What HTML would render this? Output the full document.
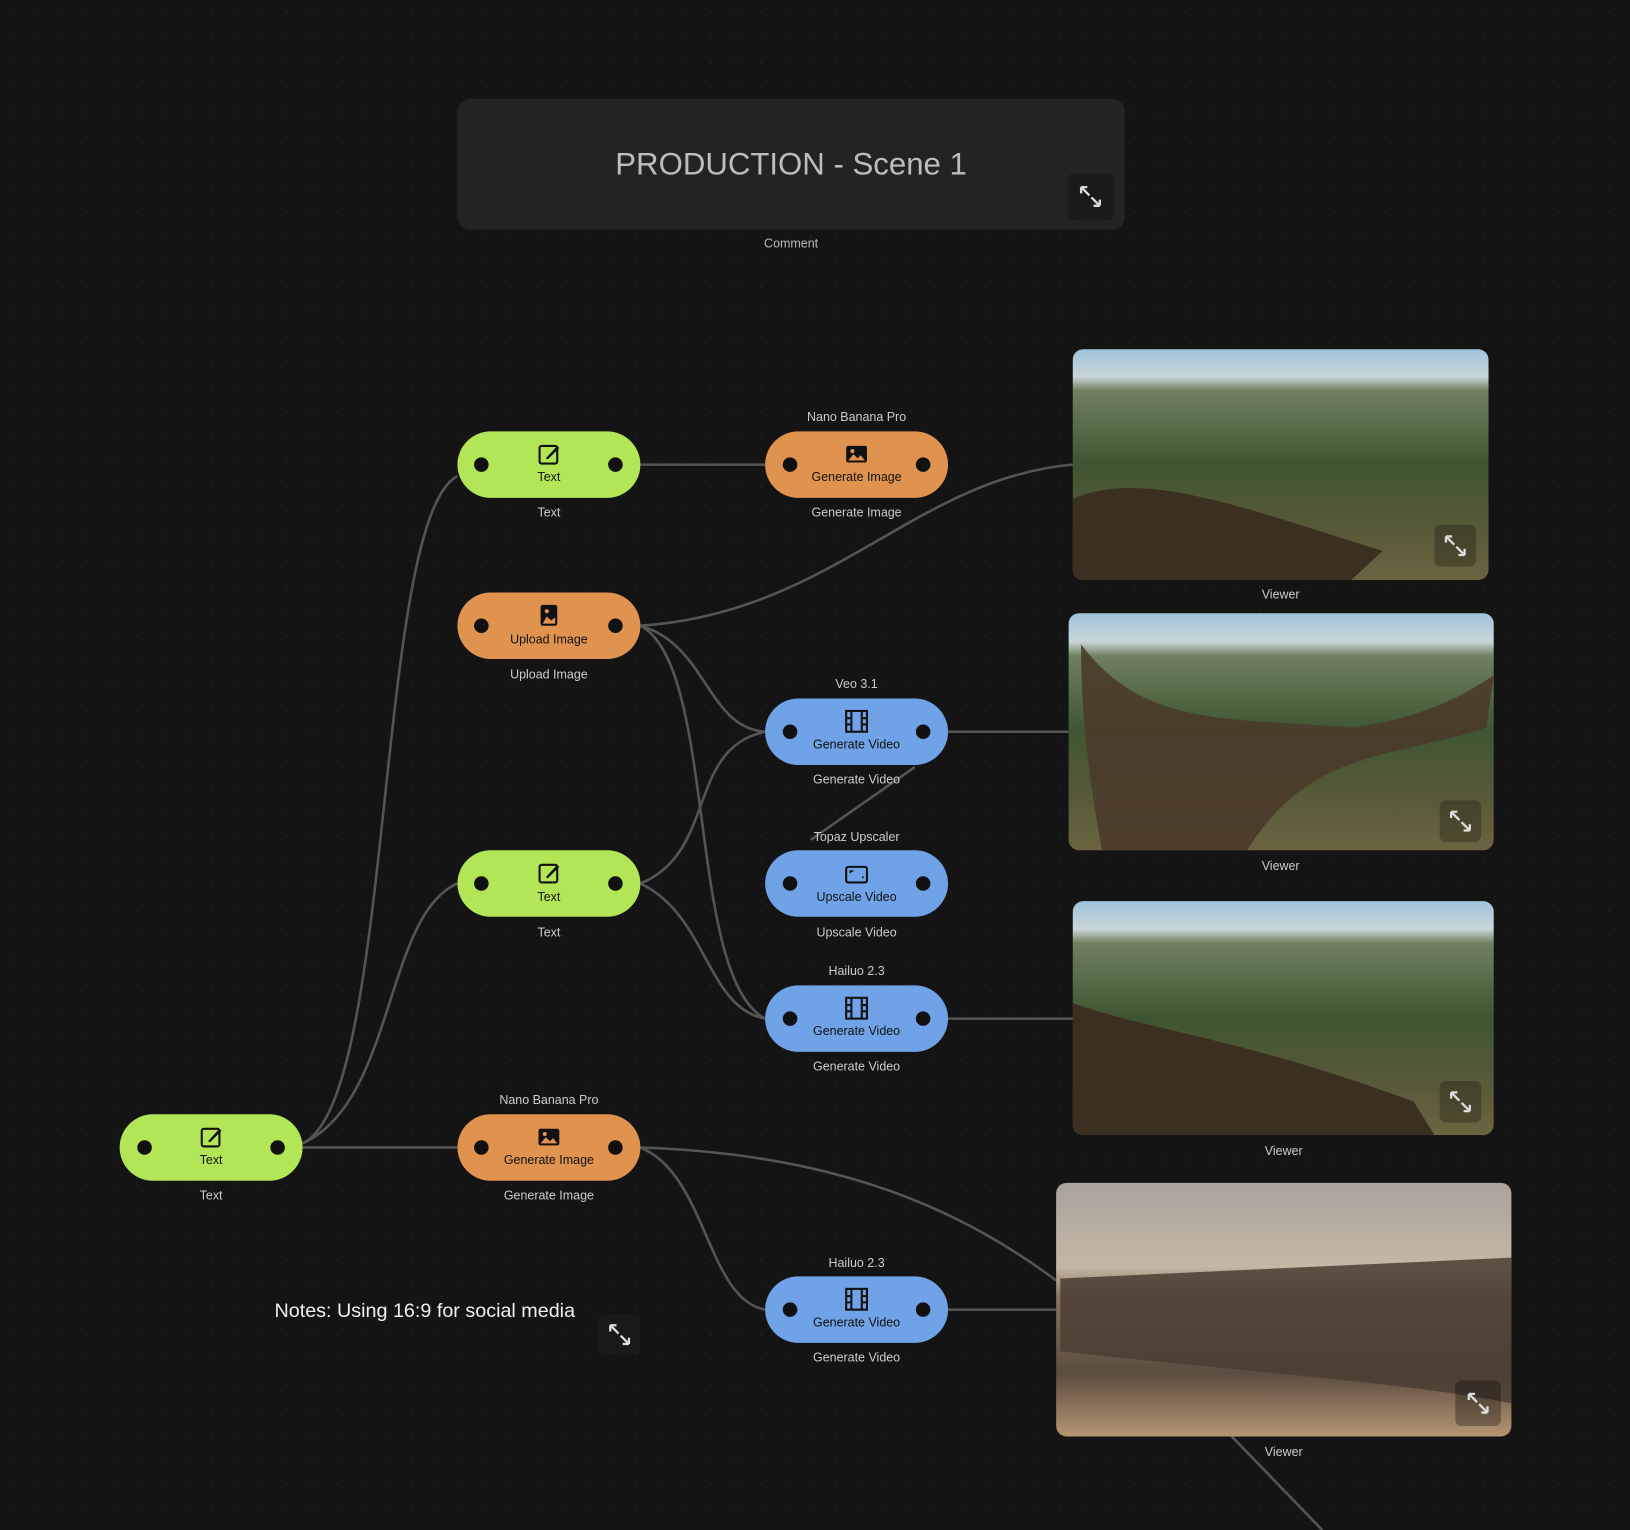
<!DOCTYPE html>
<html><head><meta charset="utf-8"><style>
html,body{margin:0;padding:0;background:#141414;width:1630px;height:1530px;overflow:hidden}
svg{display:block}
text{font-family:"Liberation Sans",sans-serif}
</style></head><body>
<svg width="1630" height="1530" viewBox="0 0 1568 1472" xmlns="http://www.w3.org/2000/svg">
<defs>
<pattern id="dots" width="24" height="24" patternUnits="userSpaceOnUse"><circle cx="12" cy="12" r="0.8" fill="#262626"/></pattern>
<linearGradient id="land" x1="0" y1="0" x2="0" y2="1">
<stop offset="0" stop-color="#9fc3dc"/><stop offset="0.12" stop-color="#c9d6d8"/><stop offset="0.18" stop-color="#6f8060"/><stop offset="0.5" stop-color="#3f5531"/><stop offset="0.8" stop-color="#5a5a3a"/><stop offset="1" stop-color="#6b6440"/></linearGradient>
<linearGradient id="sav" x1="0" y1="0" x2="0" y2="1">
<stop offset="0" stop-color="#a9a39c"/><stop offset="0.33" stop-color="#c4b7a5"/><stop offset="0.45" stop-color="#8a7560"/><stop offset="0.75" stop-color="#5a4c40"/><stop offset="1" stop-color="#b59672"/></linearGradient>
<g id="exp"><path d="M-9 -9 L-3 -9 M-9 -9 L-9 -3 M-9 -9 L-1 -1 M9 9 L3 9 M9 9 L9 3 M9 9 L1 1" stroke="#ddd" stroke-width="2.2" fill="none"/></g>
</defs>
<rect width="1568" height="1472" fill="#141414"/>
<rect width="1568" height="1472" fill="url(#dots)"/>

<!-- comment -->
<rect x="440" y="95" width="642" height="126" rx="12" fill="#232323"/>
<text x="761" y="168" font-size="30" fill="#bdbdbd" text-anchor="middle">PRODUCTION - Scene 1</text>
<rect x="1027" y="167" width="45" height="45" rx="6" fill="#1a1a1a"/>
<use href="#exp" x="1049" y="189"/>
<text x="761" y="238" font-size="12" fill="#bbb" text-anchor="middle">Comment</text>

<!-- connectors -->
<g stroke="#555" stroke-width="2.5" fill="none">
<path d="M616 447 L736 447"/>
<path d="M291 1100 C380 1060 360 500 440 458"/>
<path d="M291 1100 C380 1060 370 880 440 850"/>
<path d="M291 1104 L440 1104"/>
<path d="M616 602 C800 590 880 460 1032 447"/>
<path d="M616 602 C680 620 680 700 736 704"/>
<path d="M616 602 C690 640 660 940 736 980"/>
<path d="M616 850 C690 820 660 720 736 704"/>
<path d="M616 850 C680 880 680 970 736 980"/>
<path d="M912 704 L1028 704"/>
<path d="M880 738 L780 808"/>
<path d="M912 980 L1032 980"/>
<path d="M616 1104 C800 1110 920 1160 1016 1232"/>
<path d="M616 1104 C680 1130 680 1250 736 1260"/>
<path d="M912 1260 L1016 1260"/>
<path d="M1185 1382 L1272 1472"/>
</g>

<!-- nodes -->
<g font-size="12" text-anchor="middle">
<!-- text1 -->
<rect x="440" y="415" width="176" height="64" rx="32" fill="#b2e656"/>
<circle cx="463" cy="447" r="7" fill="#111"/><circle cx="592" cy="447" r="7" fill="#111"/>
<g transform="translate(528,437)"><rect x="-9" y="-8" width="17" height="17" rx="2" stroke="#111" stroke-width="2" fill="none"/><path d="M-3 4 L8 -8 L10 -6 L-1 5 Z" fill="#111"/></g>
<text x="528" y="463" fill="#111">Text</text>
<text x="528" y="497" fill="#ccc">Text</text>
<!-- gen image 1 -->
<text x="824" y="405" fill="#ccc">Nano Banana Pro</text>
<rect x="736" y="415" width="176" height="64" rx="32" fill="#e0924f"/>
<circle cx="760" cy="447" r="7" fill="#111"/><circle cx="888" cy="447" r="7" fill="#111"/>
<g transform="translate(824,437)"><rect x="-10" y="-8" width="20" height="16" rx="2" fill="#111"/><path d="M-8 6 L-3 0 L1 4 L4 1 L8 6 Z" fill="#e0924f"/><circle cx="-4" cy="-3" r="2" fill="#e0924f"/></g>
<text x="824" y="463" fill="#111">Generate Image</text>
<text x="824" y="497" fill="#ccc">Generate Image</text>
<!-- upload -->
<rect x="440" y="570" width="176" height="64" rx="32" fill="#e0924f"/>
<circle cx="463" cy="602" r="7" fill="#111"/><circle cx="592" cy="602" r="7" fill="#111"/>
<g transform="translate(528,592)"><rect x="-8" y="-10" width="16" height="20" rx="2" fill="#111"/><path d="M-6 8 L-2 1 L2 5 L6 2 L6 8 Z" fill="#e0924f"/><circle cx="-2" cy="-4" r="2" fill="#e0924f"/></g>
<text x="528" y="619" fill="#111">Upload Image</text>
<text x="528" y="653" fill="#ccc">Upload Image</text>
<!-- veo -->
<text x="824" y="662" fill="#ccc">Veo 3.1</text>
<rect x="736" y="672" width="176" height="64" rx="32" fill="#6fa2e6"/>
<circle cx="760" cy="704" r="7" fill="#111"/><circle cx="888" cy="704" r="7" fill="#111"/>
<g transform="translate(824,694)"><rect x="-10" y="-10" width="20" height="20" fill="none" stroke="#111" stroke-width="2"/><path d="M-5 -10 V10 M5 -10 V10 M-10 -3 H-5 M-10 3 H-5 M5 -3 H10 M5 3 H10" stroke="#111" stroke-width="2"/></g>
<text x="824" y="720" fill="#111">Generate Video</text>
<text x="824" y="754" fill="#ccc">Generate Video</text>
<!-- text2 -->
<rect x="440" y="818" width="176" height="64" rx="32" fill="#b2e656"/>
<circle cx="463" cy="850" r="7" fill="#111"/><circle cx="592" cy="850" r="7" fill="#111"/>
<g transform="translate(528,840)"><rect x="-9" y="-8" width="17" height="17" rx="2" stroke="#111" stroke-width="2" fill="none"/><path d="M-3 4 L8 -8 L10 -6 L-1 5 Z" fill="#111"/></g>
<text x="528" y="867" fill="#111">Text</text>
<text x="528" y="901" fill="#ccc">Text</text>
<!-- upscale -->
<text x="824" y="809" fill="#ccc">Topaz Upscaler</text>
<rect x="736" y="818" width="176" height="64" rx="32" fill="#6fa2e6"/>
<circle cx="760" cy="850" r="7" fill="#111"/><circle cx="888" cy="850" r="7" fill="#111"/>
<g transform="translate(824,841)"><rect x="-10" y="-7" width="20" height="15" rx="2" fill="none" stroke="#111" stroke-width="2"/><path d="M-6 -1 V-3 H-3 M6 4 V2" stroke="#111" stroke-width="1.5" fill="none"/></g>
<text x="824" y="867" fill="#111">Upscale Video</text>
<text x="824" y="901" fill="#ccc">Upscale Video</text>
<!-- hailuo1 -->
<text x="824" y="938" fill="#ccc">Hailuo 2.3</text>
<rect x="736" y="948" width="176" height="64" rx="32" fill="#6fa2e6"/>
<circle cx="760" cy="980" r="7" fill="#111"/><circle cx="888" cy="980" r="7" fill="#111"/>
<g transform="translate(824,970)"><rect x="-10" y="-10" width="20" height="20" fill="none" stroke="#111" stroke-width="2"/><path d="M-5 -10 V10 M5 -10 V10 M-10 -3 H-5 M-10 3 H-5 M5 -3 H10 M5 3 H10" stroke="#111" stroke-width="2"/></g>
<text x="824" y="996" fill="#111">Generate Video</text>
<text x="824" y="1030" fill="#ccc">Generate Video</text>
<!-- text3 -->
<rect x="115" y="1072" width="176" height="64" rx="32" fill="#b2e656"/>
<circle cx="139" cy="1104" r="7" fill="#111"/><circle cx="267" cy="1104" r="7" fill="#111"/>
<g transform="translate(203,1094)"><rect x="-9" y="-8" width="17" height="17" rx="2" stroke="#111" stroke-width="2" fill="none"/><path d="M-3 4 L8 -8 L10 -6 L-1 5 Z" fill="#111"/></g>
<text x="203" y="1120" fill="#111">Text</text>
<text x="203" y="1154" fill="#ccc">Text</text>
<!-- gen image 2 -->
<text x="528" y="1062" fill="#ccc">Nano Banana Pro</text>
<rect x="440" y="1072" width="176" height="64" rx="32" fill="#e0924f"/>
<circle cx="463" cy="1104" r="7" fill="#111"/><circle cx="592" cy="1104" r="7" fill="#111"/>
<g transform="translate(528,1094)"><rect x="-10" y="-8" width="20" height="16" rx="2" fill="#111"/><path d="M-8 6 L-3 0 L1 4 L4 1 L8 6 Z" fill="#e0924f"/><circle cx="-4" cy="-3" r="2" fill="#e0924f"/></g>
<text x="528" y="1120" fill="#111">Generate Image</text>
<text x="528" y="1154" fill="#ccc">Generate Image</text>
<!-- hailuo2 -->
<text x="824" y="1219" fill="#ccc">Hailuo 2.3</text>
<rect x="736" y="1228" width="176" height="64" rx="32" fill="#6fa2e6"/>
<circle cx="760" cy="1260" r="7" fill="#111"/><circle cx="888" cy="1260" r="7" fill="#111"/>
<g transform="translate(824,1250)"><rect x="-10" y="-10" width="20" height="20" fill="none" stroke="#111" stroke-width="2"/><path d="M-5 -10 V10 M5 -10 V10 M-10 -3 H-5 M-10 3 H-5 M5 -3 H10 M5 3 H10" stroke="#111" stroke-width="2"/></g>
<text x="824" y="1276" fill="#111">Generate Video</text>
<text x="824" y="1310" fill="#ccc">Generate Video</text>
</g>

<!-- viewers -->
<g font-size="12" text-anchor="middle" fill="#ccc">
<rect x="1032" y="336" width="400" height="222" rx="10" fill="url(#land)"/>
<path d="M1032 480 C1100 450 1200 490 1330 530 L1300 558 L1042 558 Q1032 558 1032 548 Z" fill="#3b2f22"/>
<rect x="1380" y="505" width="40" height="40" rx="6" fill="#000" opacity="0.25"/><use href="#exp" x="1400" y="525"/>
<text x="1232" y="576">Viewer</text>

<rect x="1028" y="590" width="409" height="228" rx="10" fill="url(#land)"/>
<path d="M1040 620 C1100 700 1180 690 1300 700 C1380 690 1420 660 1437 650 L1430 700 C1340 730 1260 720 1200 818 L1060 818 C1050 760 1040 700 1040 620 Z" fill="#4a3b2a" opacity="0.9"/>
<rect x="1385" y="770" width="40" height="40" rx="6" fill="#000" opacity="0.25"/><use href="#exp" x="1405" y="790"/>
<text x="1232" y="837">Viewer</text>

<rect x="1032" y="867" width="405" height="225" rx="10" fill="url(#land)"/>
<path d="M1032 965 C1100 990 1200 1000 1360 1060 L1380 1092 L1042 1092 Q1032 1092 1032 1082 Z" fill="#3b2f22"/>
<rect x="1385" y="1040" width="40" height="40" rx="6" fill="#000" opacity="0.25"/><use href="#exp" x="1405" y="1060"/>
<text x="1235" y="1111">Viewer</text>

<rect x="1016" y="1138" width="438" height="244" rx="10" fill="url(#sav)"/>
<path d="M1020 1230 L1454 1210 L1454 1350 C1350 1330 1200 1320 1020 1300 Z" fill="#4a3d32" opacity="0.85"/>
<rect x="1400" y="1328" width="44" height="44" rx="6" fill="#000" opacity="0.3"/><use href="#exp" x="1422" y="1350"/>
<text x="1235" y="1401">Viewer</text>
</g>

<!-- notes -->
<text x="264" y="1267" font-size="19" fill="#f0f0f0">Notes: Using 16:9 for social media</text>
<rect x="576" y="1264" width="40" height="40" rx="6" fill="#191919"/>
<use href="#exp" x="596" y="1284"/>
</svg>
</body></html>
